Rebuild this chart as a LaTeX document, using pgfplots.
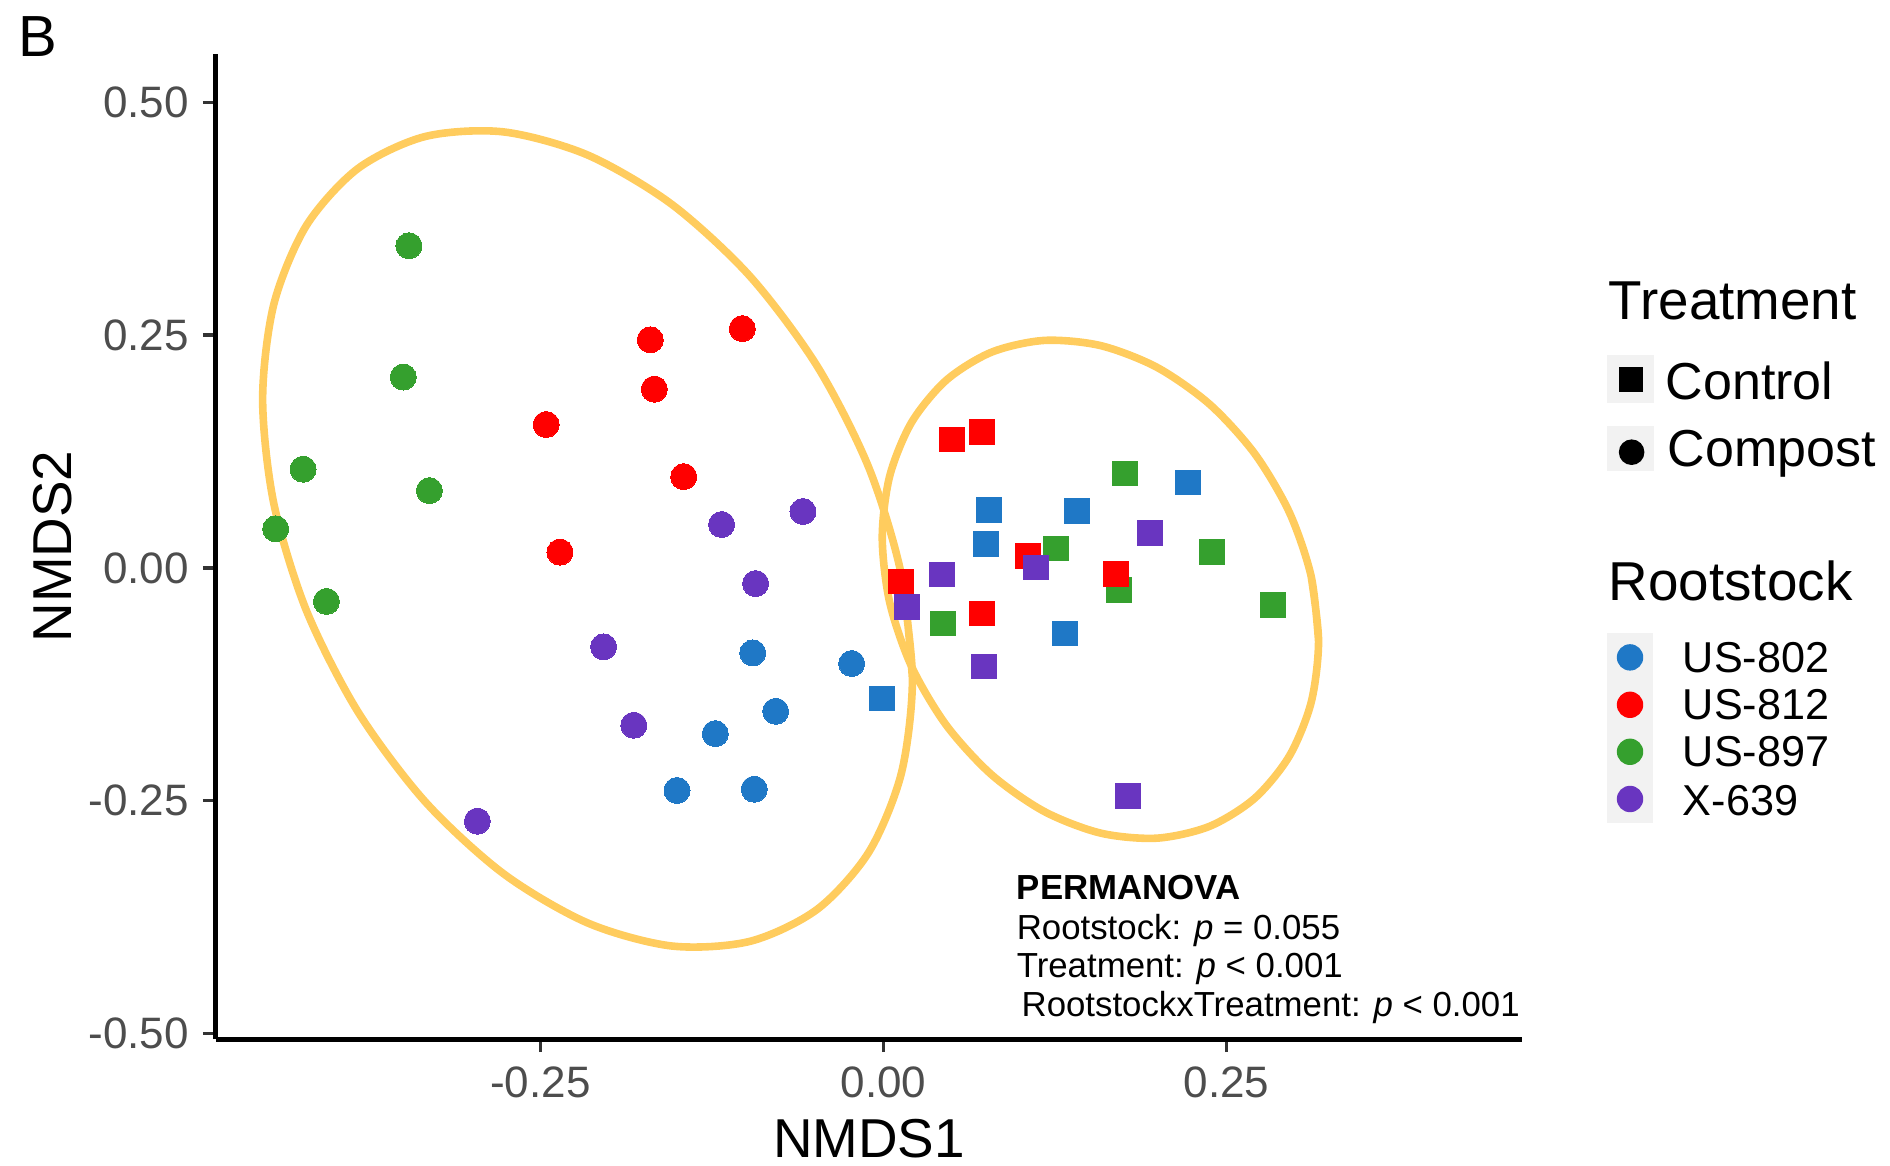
\documentclass[border=0pt]{standalone}
\usepackage{fontspec}
\setmainfont{Liberation Sans}
\usepackage{pgfplots}
\pgfplotsset{compat=1.18}
\definecolor{cblue}{HTML}{1F78C6}
\definecolor{cred}{HTML}{FF0000}
\definecolor{cgreen}{HTML}{35A02E}
\definecolor{cpurple}{HTML}{6935C0}
\definecolor{cell}{HTML}{FFCC5E}
\definecolor{keybg}{HTML}{F2F2F2}
\definecolor{ticktext}{HTML}{4D4D4D}
\definecolor{tickline}{HTML}{333333}
\begin{document}
\begin{tikzpicture}
\useasboundingbox (-54pt,-31.5pt) rectangle (418.5pt,259.75pt);
\begin{axis}[
  at={(0,0)}, anchor=south west,
  scale only axis, width=326.5pt, height=246.25pt,
  xmin=-0.4865, xmax=0.4654, ymin=-0.506, ymax=0.552,
  axis lines*=left, axis line style={-, line width=1.25pt, black},
  xtick={-0.25,0,0.25}, ytick={-0.5,-0.25,0,0.25,0.5},
  minor tick num=0,
  tick align=outside, major tick length=3.3pt,
  tick style={line width=0.9pt, color=tickline},
  /pgf/number format/assume math mode=true,
  xticklabel={\pgfmathprintnumber[fixed,fixed zerofill,precision=2]{\tick}},
  yticklabel={\pgfmathprintnumber[fixed,fixed zerofill,precision=2]{\tick}},
  ticklabel style={font=\fontsize{11}{13}\selectfont, color=ticktext},
  scaled ticks=false,
  xlabel={NMDS1}, ylabel={NMDS2},
  every axis x label/.style={at={(axis description cs:0.5,0)}, anchor=base, yshift=-29.5pt, font=\fontsize{13.7}{16}\selectfont},
  every axis y label/.style={at={(axis description cs:0,0.5)}, xshift=-36pt, rotate=90, anchor=base, font=\fontsize{13.7}{16}\selectfont},
  clip=false,
  circ/.style={only marks, mark=*, mark size=3.25pt, color=#1, mark options={draw=#1, fill=#1, line width=0pt}},
  sq/.style={only marks, mark=square*, mark size=3.1pt, color=#1, mark options={draw=#1, fill=#1, line width=0pt}},
]
% US-802 Compost
\addplot[circ=cblue] coordinates {
(-0.0953,-0.0913) (-0.0232,-0.1027) (-0.0786,-0.154) (-0.1226,-0.178) (-0.1505,-0.239) (-0.0942,-0.2377)};
% US-802 Control
\addplot[sq=cblue] coordinates {
(-0.0013,-0.1403) (0.0771,0.062) (0.141,0.0612) (0.2217,0.0917) (0.0745,0.0255) (0.132,-0.0705)};
% US-897 Compost
\addplot[circ=cgreen] coordinates {
(-0.3459,0.346) (-0.350,0.205) (-0.423,0.106) (-0.331,0.083) (-0.443,0.042) (-0.406,-0.036)};
% US-897 Control
\addplot[sq=cgreen] coordinates {
(0.1758,0.1014) (0.126,0.0208) (0.2394,0.0169) (0.1714,-0.0236) (0.2841,-0.0397) (0.0434,-0.0597)};
% US-812 Compost
\addplot[circ=cred] coordinates {
(-0.1029,0.257) (-0.170,0.245) (-0.167,0.192) (-0.2458,0.154) (-0.1456,0.098) (-0.2358,0.017)};
% US-812 Control
\addplot[sq=cred] coordinates {
(0.0499,0.138) (0.0718,0.146) (0.1053,0.0129) (0.1692,-0.0068) (0.0125,-0.0146) (0.0718,-0.049)};
% X-639 Compost
\addplot[circ=cpurple] coordinates {
(-0.118,0.0466) (-0.0587,0.0606) (-0.0932,-0.0168) (-0.204,-0.0848) (-0.182,-0.169) (-0.296,-0.272)};
% X-639 Control
\addplot[sq=cpurple] coordinates {
(0.194,0.0376) (0.1111,0.0004) (0.0424,-0.0071) (0.0169,-0.0419) (0.0735,-0.106) (0.1784,-0.2448)};
% ellipse Compost
\addplot[cell, line width=1.9pt, smooth, mark=none] coordinates {
(0.0211,-0.1190) (0.0130,-0.0072) (-0.0106,0.1073) (-0.0483,0.2166) (-0.0973,0.3132) (-0.1544,0.3906)
(-0.2157,0.4435) (-0.2770,0.4683) (-0.3341,0.4633) (-0.3831,0.4289) (-0.4208,0.3673) (-0.4444,0.2829)
(-0.4525,0.1812) (-0.4444,0.0694) (-0.4208,-0.0451) (-0.3831,-0.1544) (-0.3341,-0.2510) (-0.2770,-0.3284)
(-0.2157,-0.3813) (-0.1544,-0.4061) (-0.0973,-0.4011) (-0.0483,-0.3667) (-0.0106,-0.3051) (0.0130,-0.2207)
(0.0211,-0.1190) (0.0130,-0.0072)};
% ellipse Control
\addplot[cell, line width=1.9pt, smooth, mark=none] coordinates {
(0.3171,-0.0787) (0.3117,-0.0090) (0.2958,0.0597) (0.2705,0.1228) (0.2376,0.1759) (0.1992,0.2155)
(0.1581,0.2388) (0.1170,0.2443) (0.0786,0.2316) (0.0457,0.2015) (0.0204,0.1561) (0.0045,0.0985)
(-0.0009,0.0327) (0.0045,-0.0370) (0.0204,-0.1057) (0.0457,-0.1688) (0.0786,-0.2219) (0.1170,-0.2615)
(0.1581,-0.2848) (0.1992,-0.2903) (0.2376,-0.2776) (0.2705,-0.2475) (0.2958,-0.2021) (0.3117,-0.1445)
(0.3171,-0.0787) (0.3117,-0.0090)};
\begin{scope}[every node/.style={anchor=base west, inner sep=0pt, font=\fontsize{8.7}{10}\selectfont}]
\node[font=\fontsize{8.7}{10}\selectfont\bfseries] at (axis cs:0.0966,-0.356) {PERMANOVA};
\node at (axis cs:0.0966,-0.399) {Rootstock: \textit{p} = 0.055};
\node at (axis cs:0.0966,-0.440) {Treatment: \textit{p} < 0.001};
\node at (axis cs:0.1001,-0.482) {RootstockxTreatment: \textit{p} < 0.001};
\end{scope}
\end{axis}
% panel letter
\node[anchor=base west, inner sep=0pt, font=\fontsize{14.5}{17}\selectfont] at (-49.5pt,245.6pt) {B};
% legend
\begin{scope}[every node/.style={anchor=base west, inner sep=0pt}]
\node[font=\fontsize{13.7}{16}\selectfont] at (348pt,179.8pt) {Treatment};
\fill[keybg] (347.75pt,158.9pt) rectangle (359.5pt,170.9pt);
\fill[black] (350.65pt,161.7pt) rectangle (356.85pt,167.9pt);
\node[font=\fontsize{13}{15}\selectfont] at (362.25pt,159.9pt) {Control};
\fill[keybg] (347.75pt,141.9pt) rectangle (359.5pt,153.25pt);
\fill[black] (353.9pt,146.7pt) circle (3.2pt);
\node[font=\fontsize{13}{15}\selectfont] at (362.75pt,143.1pt) {Compost};
\node[font=\fontsize{13.7}{16}\selectfont] at (348pt,109.6pt) {Rootstock};
\fill[keybg] (347.75pt,54.05pt) rectangle (359.25pt,101.5pt);
\fill[cblue] (353.5pt,95.4pt) circle (3.3pt);
\fill[cred] (353.5pt,83.55pt) circle (3.3pt);
\fill[cgreen] (353.5pt,71.8pt) circle (3.3pt);
\fill[cpurple] (353.5pt,60pt) circle (3.3pt);
\node[font=\fontsize{10.8}{13}\selectfont] at (366.5pt,91.6pt) {US-802};
\node[font=\fontsize{10.8}{13}\selectfont] at (366.5pt,79.75pt) {US-812};
\node[font=\fontsize{10.8}{13}\selectfont] at (366.5pt,68pt) {US-897};
\node[font=\fontsize{10.8}{13}\selectfont] at (366.5pt,56pt) {X-639};
\end{scope}
\end{tikzpicture}
\end{document}
